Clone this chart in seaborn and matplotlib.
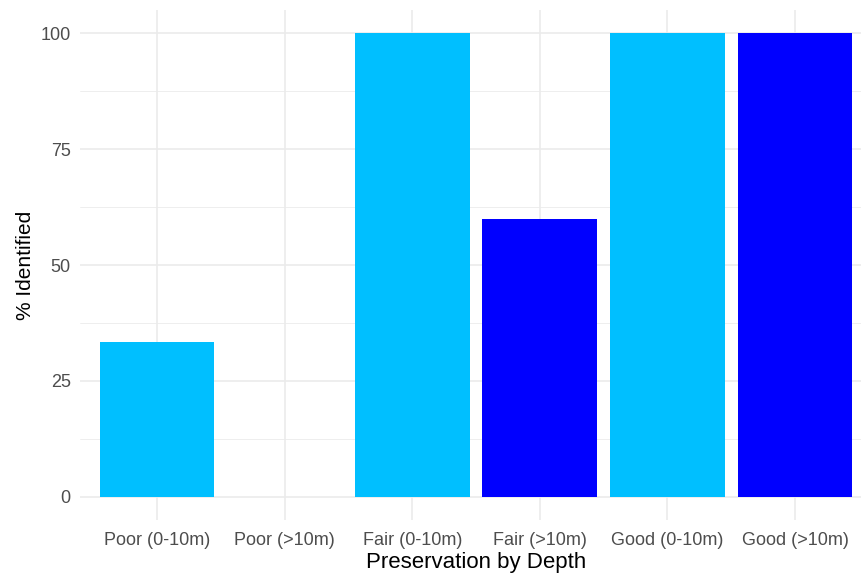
import pandas as pd
import numpy as np
import matplotlib
matplotlib.use("Agg")
import matplotlib.pyplot as plt
import seaborn as sns

# ============================================
# Data
# ============================================

categories = ["Poor (0-10m)", "Poor (>10m)", "Fair (0-10m)",
              "Fair (>10m)", "Good (0-10m)", "Good (>10m)"]
depths = ["0-10m", ">10m", "0-10m", ">10m", "0-10m", ">10m"]
pct_identified = [33.3, 0, 100, 60, 100, 100]

depth_colors = {"0-10m": "#00BFFF", ">10m": "#0000FF"}

df = pd.DataFrame({
    "Preservation": categories,
    "Depth": depths,
    "Identified": pct_identified,
})

# ============================================
# Plot
# ============================================

sns.set_style("white")
plt.rcParams["font.family"] = ["Liberation Sans", "DejaVu Sans"]

fig = plt.figure(figsize=(8.61, 5.74), dpi=100)
W, H = 861, 574
# panel in pixels (left, bottom, right, top); right edge runs off the image
left, right, top, bottom = 80.4, 871.6, 10.0, 520.0
ax = fig.add_axes([left / W, 1 - bottom / H, (right - left) / W, (bottom - top) / H])

sns.barplot(data=df, x="Preservation", y="Identified", hue="Depth",
            palette=depth_colors, order=categories, dodge=False,
            width=0.9, saturation=1, legend=False, ax=ax, zorder=3)

for p in ax.patches:
    p.set_edgecolor("none")

ax.set_xlim(-0.6, 5.6)
ax.set_ylim(-5, 105)
ax.set_yticks([0, 25, 50, 75, 100])
ax.set_yticks([12.5, 37.5, 62.5, 87.5], minor=True)

ax.grid(True, which="major", color="#EBEBEB", linewidth=1.2, zorder=0)
ax.grid(True, which="minor", axis="y", color="#EBEBEB", linewidth=0.6, zorder=0)
ax.set_axisbelow(True)
for s in ax.spines.values():
    s.set_visible(False)

ax.tick_params(axis="both", which="both", length=0, labelsize=13,
               labelcolor="#4D4D4D")
ax.tick_params(axis="x", pad=8.5)
ax.tick_params(axis="y", pad=7)

ax.set_xlabel("Preservation by Depth", fontsize=16, color="black", labelpad=2)
ax.set_ylabel("% Identified", fontsize=15, color="black", labelpad=4)

fig.savefig("out.png", dpi=100)
